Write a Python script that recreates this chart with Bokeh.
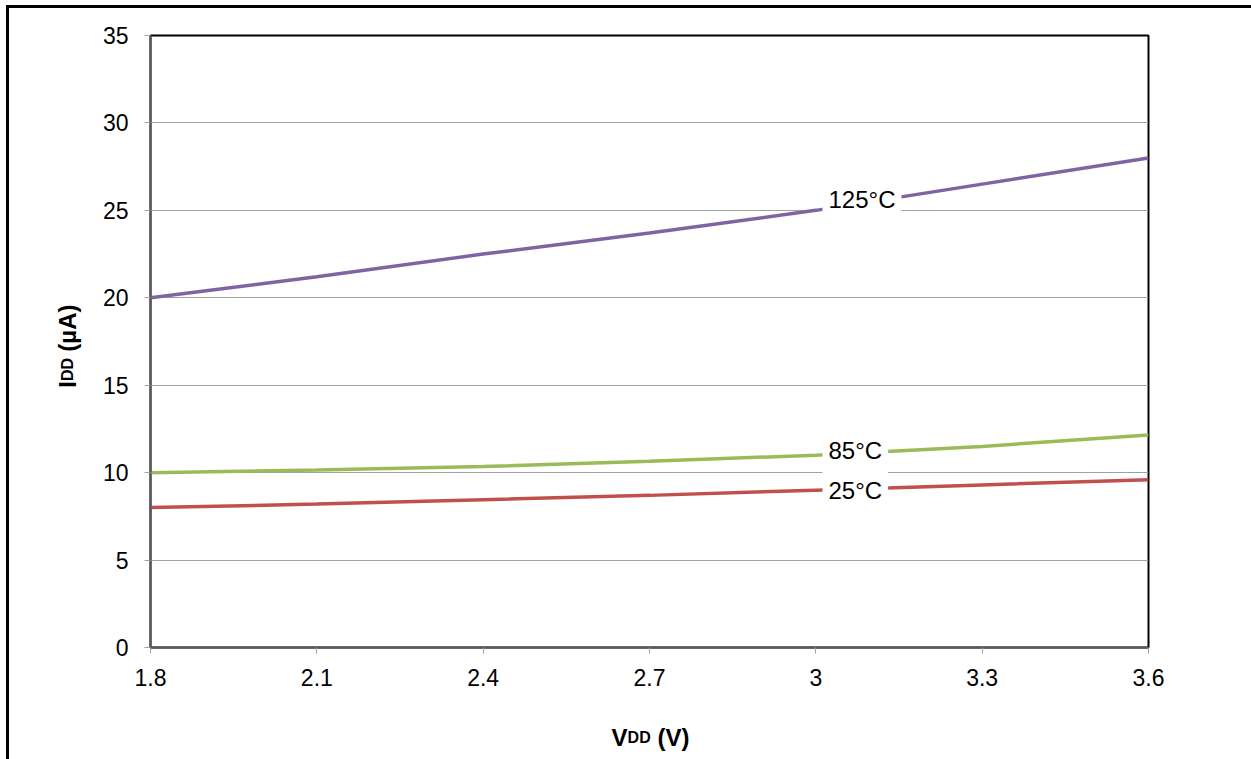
import math
from bokeh.plotting import figure
from bokeh.models import Label, Range1d, FixedTicker
from bokeh.embed import file_html
from bokeh.resources import INLINE

# ---- data ----
vdd = [1.8, 2.1, 2.4, 2.7, 3.0, 3.3, 3.6]
idd_125 = [20.0, 21.2, 22.5, 23.7, 25.0, 26.5, 28.0]
idd_85 = [10.0, 10.15, 10.35, 10.65, 11.0, 11.5, 12.15]
idd_25 = [8.0, 8.2, 8.45, 8.7, 9.0, 9.3, 9.6]
x_ticks = [1.8, 2.1, 2.4, 2.7, 3.0, 3.3, 3.6]
y_ticks = [0, 5, 10, 15, 20, 25, 30, 35]
series_labels = ["125°C", "85°C", "25°C"]
label_y = [25.6, 11.28, 8.99]
colors = ["#8064A2", "#9BBB59", "#C0504D"]

FONT = "Liberation Sans"
W, H = 1251, 759
FX0, FX1, FY0, FY1 = 150, 1148, 35, 654  # frame edges in page px

p = figure(width=W, height=H, output_backend="svg", toolbar_location=None,
           x_range=Range1d(1.8, 3.6), y_range=Range1d(0, 35),
           min_border_left=FX0, min_border_right=W - FX1,
           min_border_top=FY0, min_border_bottom=H - FY1)
p.background_fill_color = "white"
p.border_fill_color = None
p.styles = {
    "background": "linear-gradient(#000, #000) 6px 5px / 3px 100% no-repeat, "
                  "linear-gradient(#000, #000) 6px 5px / 100% 3px no-repeat, #fff",
}
p.outline_line_color = "black"
p.outline_line_width = 2

p.xaxis.ticker = FixedTicker(ticks=x_ticks)
p.yaxis.ticker = FixedTicker(ticks=y_ticks)
p.xaxis.major_label_overrides = {1.8: "1.8", 2.1: "2.1", 2.4: "2.4", 2.7: "2.7",
                                 3.0: "3", 3.3: "3.3", 3.6: "3.6"}
for ax in (p.xaxis[0], p.yaxis[0]):
    ax.axis_line_color = "#595959"
    ax.axis_line_width = 2
    ax.major_tick_line_color = "#A0A0A0"
    ax.major_tick_in = 0
    ax.major_tick_out = 6
    ax.minor_tick_line_color = None
    ax.major_label_text_font = FONT
    ax.major_label_text_font_size = "23px"
    ax.major_label_text_color = "black"
p.yaxis.major_label_standoff = 16
p.xaxis.major_label_standoff = 15

p.xgrid.grid_line_color = None
p.ygrid.grid_line_color = "#A0A0A0"
p.ygrid.grid_line_width = 1

for ys, c in zip([idd_125, idd_85, idd_25], colors):
    p.line(vdd, ys, line_color=c, line_width=3.5)


def dx(px):  # page px -> data x
    return 1.8 + (px - FX0) / (FX1 - FX0) * 1.8


def dy(py):  # page px -> data y
    return (FY1 - py) / (FY1 - FY0) * 35


for t, ly in zip(series_labels, label_y):
    p.add_layout(Label(x=dx(822), y=ly, text=t, text_align="left", text_baseline="middle",
                       text_font=FONT, text_font_size="24px", text_color="black",
                       background_fill_color="white", padding=6))

# x title: V DD (V)
MAIN, SUB = 24, 16
w_v, w_dd, w_sp = 0.667 * MAIN, 2 * 0.722 * SUB, 0.278 * MAIN
w_rest = (0.333 + 0.667 + 0.333) * MAIN
x0 = 650 - (w_v + w_dd + w_sp + w_rest) / 2
for txt, fs, off in [("V", MAIN, 0), ("DD", SUB, w_v), ("(V)", MAIN, w_v + w_dd + w_sp)]:
    p.add_layout(Label(x=dx(x0 + off), y=dy(745), text=txt, text_align="left",
                       text_baseline="alphabetic", text_font=FONT, text_font_size=f"{fs}px",
                       text_font_style="bold", text_color="black"), "below")

# y title: I DD (µA), rotated
w_i = 0.278 * MAIN
w_rest_y = (0.333 + 0.611 + 0.722 + 0.333) * MAIN
y0 = 349 + (w_i + w_dd + w_sp + w_rest_y) / 2
for txt, fs, off in [("I", MAIN, 0), ("DD", SUB, w_i), ("(µA)", MAIN, w_i + w_dd + w_sp)]:
    p.add_layout(Label(x=dx(67), y=dy(y0 - off), text=txt, text_align="left", angle=math.pi / 2,
                       text_baseline="alphabetic", text_font=FONT, text_font_size=f"{fs}px",
                       text_font_style="bold", text_color="black"), "left")

open("out.html", "w").write(file_html(p, INLINE))
